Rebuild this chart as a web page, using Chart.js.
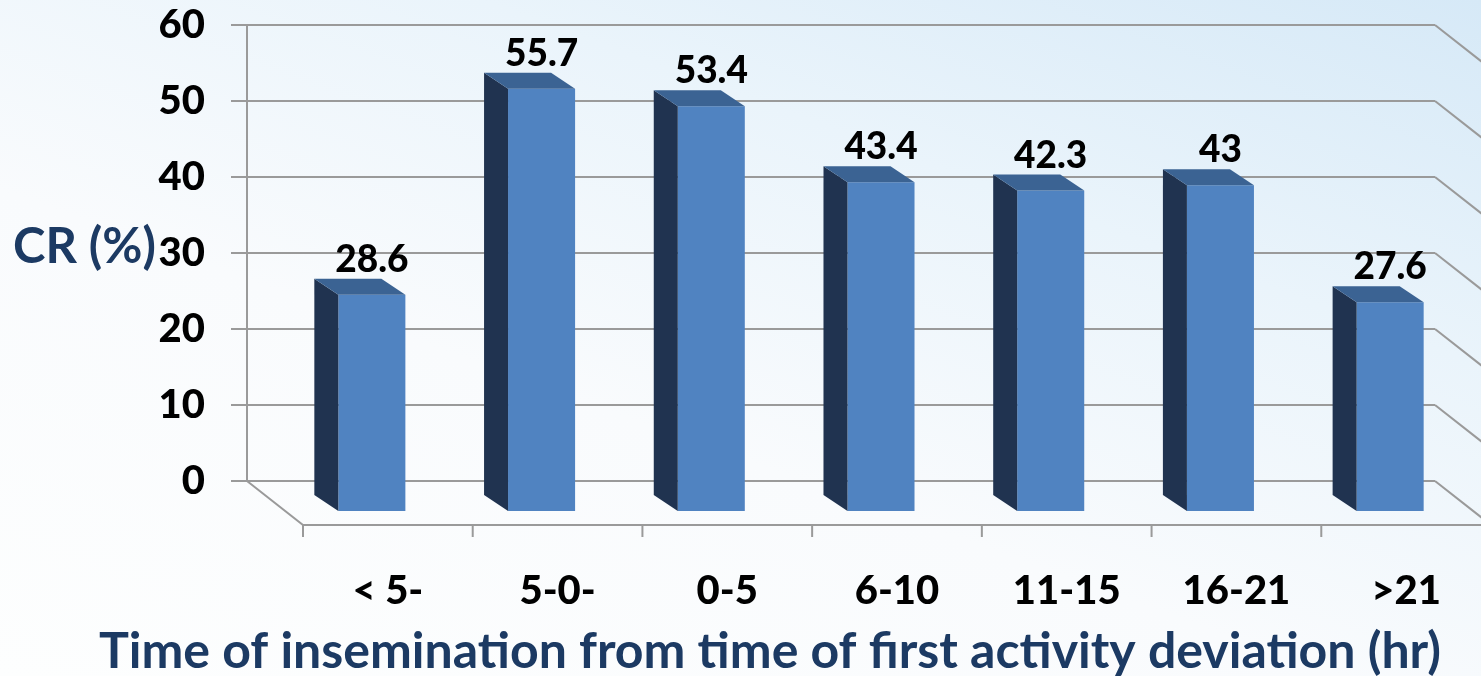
<!DOCTYPE html>
<html>
<head>
<meta charset="utf-8">
<script src="https://cdn.jsdelivr.net/npm/chart.js@4.4.1/dist/chart.umd.min.js"></script>
<style>
  html, body { margin: 0; padding: 0; }
  body {
    width: 1481px;
    height: 676px;
    overflow: hidden;
    background: linear-gradient(200deg, #d6e9f7 0%, #eaf4fb 30%, #f9fbfd 60%, #fdfefe 100%);
  }
  #wrap { position: relative; width: 1481px; height: 676px; }
</style>
</head>
<body>
<div id="wrap"><canvas id="myChart"></canvas></div>
<script>
const labels = ["< 5-", "5-0-", "0-5", "6-10", "11-15", "16-21", ">21"];
const values = [28.6, 55.7, 53.4, 43.4, 42.3, 43, 27.6];
const yTicks = [0, 10, 20, 30, 40, 50, 60];
const yTitle = "CR (%)";
const xTitle = "Time of insemination from time of first activity deviation (hr)";

const navy = "#1c3a63";
const gridGrey = "#9a9a9a";

// depth from back wall to the front edge of the floor
const floorDepth = { x: 56, y: 44 };
// where the bar fronts sit relative to the back wall
const barShift = { x: 40, y: 31 };
// depth of each bar
const barDepth = { x: 24, y: 16 };

const fakeDepth = {
    id: "fakeDepth",
    beforeDatasetsDraw(chart) {
        const { ctx, chartArea: a, scales } = chart;
        ctx.save();
        ctx.strokeStyle = gridGrey;
        ctx.lineWidth = 2;
        ctx.beginPath();
        // side wall edges on the right
        yTicks.forEach((t) => {
            const y = scales.y.getPixelForValue(t);
            ctx.moveTo(a.right, y);
            ctx.lineTo(a.right + floorDepth.x, y + floorDepth.y);
        });
        // floor
        ctx.moveTo(a.left, a.bottom);
        ctx.lineTo(a.left + floorDepth.x, a.bottom + floorDepth.y);
        ctx.lineTo(a.right + floorDepth.x, a.bottom + floorDepth.y);
        // category ticks along the floor front
        const step = (a.right - a.left) / labels.length;
        for (let i = 0; i <= labels.length; i++) {
            const x = a.left + floorDepth.x + i * step;
            ctx.moveTo(x, a.bottom + floorDepth.y);
            ctx.lineTo(x, a.bottom + floorDepth.y + 12);
        }
        ctx.stroke();
        ctx.restore();

        ctx.save();
        ctx.translate(barShift.x, barShift.y);
    },
    afterDatasetsDraw(chart) {
        const { ctx } = chart;
        const meta = chart.getDatasetMeta(0);
        meta.data.forEach((bar, i) => {
            const { x, y, base, width } = bar.getProps(["x", "y", "base", "width"], true);
            const x0 = x - width / 2;
            const x1 = x + width / 2;
            // left side
            ctx.fillStyle = "#203350";
            ctx.beginPath();
            ctx.moveTo(x0, y);
            ctx.lineTo(x0, base);
            ctx.lineTo(x0 - barDepth.x, base - barDepth.y);
            ctx.lineTo(x0 - barDepth.x, y - barDepth.y);
            ctx.closePath();
            ctx.fill();
            // top
            ctx.fillStyle = "#3b6393";
            ctx.beginPath();
            ctx.moveTo(x0, y);
            ctx.lineTo(x1, y);
            ctx.lineTo(x1 - barDepth.x, y - barDepth.y);
            ctx.lineTo(x0 - barDepth.x, y - barDepth.y);
            ctx.closePath();
            ctx.fill();
            // value label
            ctx.fillStyle = "#000";
            ctx.font = "900 37px Lato";
            ctx.textAlign = "center";
            ctx.textBaseline = "alphabetic";
            ctx.fillText(String(values[i]), x, y - 23);
        });
        ctx.restore();

        // axis titles, both horizontal
        ctx.save();
        ctx.fillStyle = navy;
        ctx.font = "bold 49px Lato";
        ctx.textAlign = "left";
        ctx.textBaseline = "middle";
        ctx.fillText(yTitle, 13, 247);
        ctx.font = "bold 50px Lato";
        ctx.textAlign = "center";
        ctx.textBaseline = "alphabetic";
        ctx.fillText(xTitle, 770, 668);
        ctx.restore();
    },
};

const data = {
    labels: labels,
    datasets: [
        {
            data: values,
            backgroundColor: "#5083c1",
            borderWidth: 0,
            categoryPercentage: 1,
            barPercentage: 0.395,
            clip: false,
        },
    ],
};

const config = {
    type: "bar",
    data: data,
    plugins: [fakeDepth],
    options: {
        responsive: true,
        maintainAspectRatio: false,
        animation: false,
        layout: {
            padding: { top: 25, right: 46, left: 0, bottom: 0 },
        },
        scales: {
            y: {
                min: 0,
                max: 60,
                afterFit(scale) {
                    scale.width = 247;
                    scale.paddingTop = 0;
                    scale.paddingBottom = 0;
                },
                ticks: {
                    stepSize: 10,
                    padding: 26,
                    color: "#000",
                    font: { family: "Lato", size: 40, weight: "900" },
                },
                grid: {
                    color: gridGrey,
                    lineWidth: 2,
                    tickLength: 16,
                },
                border: { color: gridGrey, width: 2 },
            },
            x: {
                afterFit(scale) {
                    scale.height = 195;
                    scale.paddingLeft = 0;
                    scale.paddingRight = 0;
                },
                grid: { display: false, drawTicks: false },
                border: { display: false },
                ticks: {
                    labelOffset: floorDepth.x,
                    padding: 86,
                    color: "#000",
                    maxRotation: 0,
                    autoSkip: false,
                    font: { family: "Lato", size: 40, weight: "900" },
                },
            },
        },
        plugins: {
            legend: { display: false },
            tooltip: { enabled: false },
        },
    },
};

const myChart = new Chart(document.getElementById("myChart").getContext("2d"), config);
</script>
</body>
</html>
